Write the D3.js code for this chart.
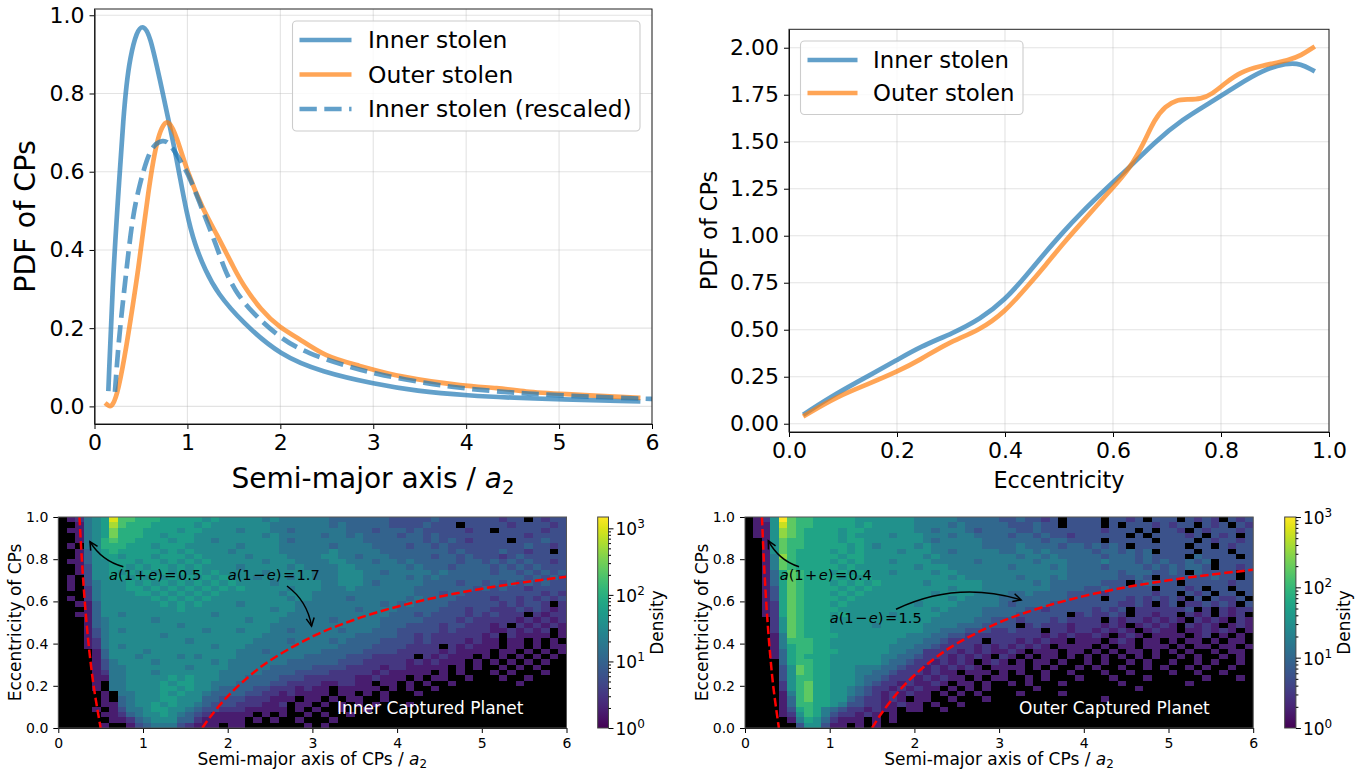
<!DOCTYPE html>
<html lang="en">
<head>
<meta charset="UTF-8">
<title>Stolen planets: PDFs and density maps</title>
<script src="https://d3js.org/d3.v7.min.js"></script>
<style>
    html, body { margin: 0; padding: 0; background: #fff; }
    svg { display: block; }
    text { font-family: "DejaVu Sans", sans-serif; fill: #000; }
</style>
</head>
<body>
<svg id="fig" width="1369" height="776"></svg>
<script>
// PDF vs semi-major axis
const innerA = [0.15, 0.2, 0.274, 0.31, 0.345, 0.382, 0.454, 0.525, 0.597, 0.704, 0.812, 0.9, 0.99, 1.08, 1.19, 1.32, 1.59, 2.0, 2.45, 3.0, 3.47, 4.0, 4.64, 5.85];
const innerAPdf = [0.045, 0.345, 0.605, 0.735, 0.825, 0.89, 0.96, 0.976, 0.95, 0.835, 0.715, 0.613, 0.494, 0.413, 0.349, 0.29, 0.215, 0.13, 0.088, 0.058, 0.039, 0.028, 0.02, 0.013];
const outerA = [0.133, 0.18, 0.24, 0.32, 0.42, 0.47, 0.525, 0.578, 0.632, 0.686, 0.74, 0.8, 0.885, 0.99, 1.17, 1.31, 1.51, 1.59, 1.79, 2.0, 2.18, 2.49, 2.84, 3.27, 4.0, 4.33, 4.64, 5.0, 5.85];
const outerAPdf = [0.005, -0.004, 0.024, 0.118, 0.27, 0.349, 0.451, 0.545, 0.63, 0.69, 0.722, 0.732, 0.69, 0.605, 0.502, 0.443, 0.349, 0.314, 0.246, 0.2, 0.177, 0.126, 0.105, 0.075, 0.051, 0.048, 0.037, 0.032, 0.022];
const rescaledA = [0.22, 0.26, 0.32, 0.364, 0.417, 0.489, 0.56, 0.63, 0.737, 0.81, 0.92, 1.026, 1.19, 1.31, 1.4, 1.51, 1.67, 2.0, 2.3, 2.69, 3.0, 3.59, 4.0, 4.64, 5.43, 6.1];
const rescaledAPdf = [0.037, 0.169, 0.297, 0.392, 0.494, 0.57, 0.63, 0.668, 0.682, 0.673, 0.63, 0.587, 0.484, 0.413, 0.349, 0.297, 0.246, 0.173, 0.135, 0.105, 0.084, 0.058, 0.045, 0.032, 0.024, 0.018];

// PDF vs eccentricity
const innerE = [0.03, 0.088, 0.15, 0.2, 0.243, 0.304, 0.354, 0.4, 0.44, 0.477, 0.508, 0.533, 0.598, 0.631, 0.677, 0.73, 0.777, 0.83, 0.876, 0.922, 0.948, 0.97];
const innerEPdf = [0.055, 0.162, 0.259, 0.339, 0.41, 0.482, 0.557, 0.658, 0.79, 0.92, 1.02, 1.1, 1.28, 1.365, 1.498, 1.622, 1.702, 1.8, 1.88, 1.92, 1.915, 1.88];
const outerE = [0.03, 0.088, 0.15, 0.2, 0.243, 0.292, 0.354, 0.4, 0.44, 0.477, 0.508, 0.542, 0.598, 0.631, 0.658, 0.677, 0.697, 0.717, 0.737, 0.763, 0.783, 0.81, 0.836, 0.869, 0.929, 0.948, 0.97];
const outerEPdf = [0.045, 0.144, 0.215, 0.277, 0.339, 0.428, 0.498, 0.596, 0.725, 0.85, 0.96, 1.07, 1.25, 1.356, 1.498, 1.62, 1.69, 1.722, 1.725, 1.727, 1.752, 1.817, 1.87, 1.9, 1.936, 1.959, 2.0];

// density maps, one char per cell: 0 = empty, otherwise log10(density) = level / 4 (hex)
// top row is e = 1, each cell 0.1 wide in a and 0.025 tall in e
const innerDensity = [
    "012567c998 8877777676 6666565555 5544444443 3333433333 3323303233",
    "001567b988 8777776766 6666655555 5545444443 3334333033 3332333323",
    "011567a888 7777677666 6566655455 5555444344 4343333323 3033333233",
    "001567a888 7767776666 6666565555 5455454444 3443433333 3333323333",
    "0015689887 7776776656 6666665455 5555554444 4443434323 3330333433",
    "0105688877 7677766666 6566665555 5545555444 4344343333 3333343323",
    "0014678777 7767676666 5666665555 5565555544 4444443433 3343323303",
    "0014677677 7677767666 6656666555 5665545554 4444344343 3323433333",
    "0114667776 7767676766 6666566655 5566555455 4544444344 3434343323",
    "0013667767 6776767666 6566666565 5556655555 5454443444 4343434333",
    "0013667676 7676767676 6666566666 5556665545 5555454444 4344343434",
    "0103667767 6767676767 6665666566 5556665555 5454544444 4444434343",
    "0103566676 7676767676 7666656666 6556665455 5554444344 3434343433",
    "0102566677 6767676767 6766666566 6555655555 5544444443 4343323333",
    "0002566667 7676767676 6666665666 5555555555 5544434433 3333333232",
    "0102566666 6767676766 6666666566 5555455555 5454444333 3233232323",
    "0011466666 6676767666 6566666655 5555555545 4544443333 3323233202",
    "0001466666 6666766666 6666656655 5555545555 4444433323 3222323212",
    "0011466566 6666666656 6666666555 5555555554 4434333323 2322202122",
    "0001456666 6566666666 6656665555 5545555544 4443333232 2222121212",
    "0001456666 6666566666 6666655555 5555555544 4333323322 2120212121",
    "0001356566 6666666566 6566655455 5554555444 3333323222 2112121201",
    "0001356666 6656666666 6666555555 5555544444 3323222222 1202111101",
    "0001256666 6666656666 6665555455 5545444433 3323222212 1101101010",
    "0001256566 6666666656 6655555555 5554444333 3222202121 1101101011",
    "0000146666 5666666666 6555455555 5444443333 2222212111 1011010101",
    "0000146665 6666565666 6555555554 4444333222 2202121110 1010101010",
    "0000135666 6566666656 5555555444 4443332222 2121211101 0101010100",
    "0000135566 6666656666 5555544444 3333222212 2111110101 0010101000",
    "0000125566 6566666665 5555444433 3322222121 1111010100 0101000100",
    "0000115566 6667676665 5544443332 2222211211 1010110010 0010010000",
    "0000105566 6676776655 5444433222 2112211011 0101001000 0000100000",
    "0000105566 6677676654 4443322212 1101111101 0100100000 0000000000",
    "0000010556 6676766544 4433221211 1101101010 0010000000 0000000000",
    "0000010456 6677666443 3322211101 1010110010 0000000000 0000000000",
    "0000011456 6767665433 3222112011 0101010100 0100000000 0000000000",
    "0000101355 6776654332 2211111010 1001001000 0000000000 0000000000",
    "0000011245 6676543211 1110101001 0100100000 0000000000 0000000000",
    "0000001124 5666442111 1101010010 0010000000 0000000000 0000000000",
    "0000010013 4555321110 1100000001 0100000000 0000000000 0000000000"
];
const outerDensity = [
    "0126c98877 7776666666 5555544444 3343323033 3303323033 3032320323",
    "0116b98877 7776766666 5555454444 4333433033 3303033323 2330323032",
    "0116a98777 7677666666 5545554344 4433433333 3323330303 3203233323",
    "0116a98777 7676666566 6555455444 4344343323 3333303033 3323032303",
    "0016988777 7677666666 6545555544 4444434433 3303333303 3330323323",
    "0016988777 7767656666 5655555544 4454444344 3434303333 3303303233",
    "0016987777 6767666656 6655455555 4455454444 4344343403 3330333033",
    "0015a87777 7677666666 6565555555 5545545444 4434443433 3304333303",
    "0015987777 6767666566 6655555455 5555455544 4454443434 3343403333",
    "0015987777 7676666666 5666555555 5455554544 4434444343 4344303323",
    "0014798777 6767666566 6656655555 5555555544 4444344433 4304333303",
    "0014798777 7676766666 6666565555 5545554544 4444334303 3333343303",
    "0014798777 6767676666 6566666655 5555454444 4433303433 3033333233",
    "0013798777 7676766666 6666566655 5555554444 3343333303 3323033033",
    "0013798777 6767666666 6656666555 5445444433 3323333323 3032303303",
    "0013798777 7676666666 6666565555 4444444433 3303323232 3203032230",
    "0012798777 6766666666 5666655555 4344443333 3333223202 3022323203",
    "0012798777 7666666666 6656555544 4443323333 3232302222 2230202122",
    "0012798777 6766666566 6665555544 4433333302 3223202212 2021202120",
    "0002698777 6666666666 6655555443 3323332322 2202122121 2102121021",
    "0002698777 6666656666 6555544433 3302322212 2212101212 1021210121",
    "0002698777 6666666666 6554443332 2322202212 2121210121 1011212101",
    "0001598777 7666666665 5544332222 2222212121 1210121011 1101201010",
    "0001588877 6666666655 5443222202 2212121101 1101210110 1011010110",
    "0001578877 6666666555 4432222121 2121210111 1010110111 0101101101",
    "0001478877 7666666554 4222212121 1210111011 0101011010 1010010110",
    "0001478777 6666665544 3222121210 2101011010 1010101010 0101001010",
    "0000478877 6666665443 2212121012 1010110100 1010010100 1001010010",
    "0000369877 6665554432 2121212101 1110101001 0100100101 0010100100",
    "0000369877 6665544322 2121101110 1010010010 0010010000 1001001000",
    "0000368877 6665443222 1212110101 1001010001 0001000100 0000100010",
    "0000268977 6665432212 1121011010 0101000100 0000100000 0010000000",
    "0000268977 6654322121 2110101010 0000100000 0000001000 0000000000",
    "0000158977 6654321212 1101010100 0010000100 0000000000 0000000000",
    "0000148977 6643221210 1100100010 0000000000 0010000000 0000000000",
    "0000148877 6533221121 1010010000 0000000000 0000000000 0000000000",
    "0000137875 4322121101 1001000000 0000000000 0000000000 0000000000",
    "0000126875 3221210100 0000000000 0000000000 0000000000 0000000000",
    "0000015764 2111010100 0000000000 0000000000 0000000000 0000000000",
    "0000003663 1101010000 0000000000 0000000000 0000000000 0000000000"
];

// read-off dashed boundaries on the density maps
const innerPeriA = [0.25, 0.278, 0.3125, 0.357, 0.417, 0.5];
const innerPeriE = [1, 0.8, 0.6, 0.4, 0.2, 0];
const innerApoA = [1.7, 1.8, 2, 2.25, 2.5, 3, 3.5, 4, 4.5, 5, 5.5, 6];
const innerApoE = [0, 0.056, 0.15, 0.244, 0.32, 0.433, 0.514, 0.575, 0.622, 0.66, 0.691, 0.717];
const outerPeriA = [0.2, 0.222, 0.25, 0.286, 0.333, 0.4];
const outerPeriE = [1, 0.8, 0.6, 0.4, 0.2, 0];
const outerApoA = [1.5, 1.6, 1.8, 2, 2.25, 2.5, 3, 3.5, 4, 4.5, 5, 5.5, 6];
const outerApoE = [0, 0.0625, 0.167, 0.25, 0.333, 0.4, 0.5, 0.571, 0.625, 0.667, 0.7, 0.727, 0.75];

const pdfATicks = [0, 0.2, 0.4, 0.6, 0.8, 1.0];
const pdfETicks = [0, 0.25, 0.5, 0.75, 1.0, 1.25, 1.5, 1.75, 2.0];
const eccTicks = [0, 0.2, 0.4, 0.6, 0.8, 1.0];
const smaTicks = [0, 1, 2, 3, 4, 5, 6];

const blue = "#1f77b4";
const orange = "#ff7f0e";
const svg = d3.select("#fig");
const defs = svg.append("defs");

defs.append("marker")
    .attr("id", "arrow")
    .attr("markerUnits", "userSpaceOnUse")
    .attr("markerWidth", 14).attr("markerHeight", 14)
    .attr("refX", 9).attr("refY", 5)
    .attr("orient", "auto")
    .append("path")
    .attr("d", "M1,1 L9,5 L1,9")
    .attr("fill", "none").attr("stroke", "#000").attr("stroke-width", 1.5);

function drawAxes(g, x, y, xTicks, yTicks, xFmt, yFmt, fontSize, spine) {
    const [x0, x1] = x.range();
    const [y0, y1] = y.range();
    const xAxis = g.append("g")
        .attr("transform", `translate(0,${y0})`)
        .call(d3.axisBottom(x).tickValues(xTicks).tickFormat(xFmt).tickSize(5).tickPadding(5).tickSizeOuter(0));
    const yAxis = g.append("g")
        .attr("transform", `translate(${x0},0)`)
        .call(d3.axisLeft(y).tickValues(yTicks).tickFormat(yFmt).tickSize(5).tickPadding(5).tickSizeOuter(0));
    [xAxis, yAxis].forEach(a => {
        a.selectAll("text").style("font-size", fontSize + "px");
        a.attr("font-family", null).attr("font-size", null);
    });
    g.append("rect")
        .attr("x", x0).attr("y", y1)
        .attr("width", x1 - x0).attr("height", y0 - y1)
        .attr("fill", "none").attr("stroke", spine).attr("stroke-width", 1);
}

function drawGrid(g, x, y, xTicks, yTicks) {
    g.selectAll(null).data(xTicks).enter().append("line")
        .attr("x1", d => x(d)).attr("x2", d => x(d))
        .attr("y1", y.range()[0]).attr("y2", y.range()[1])
        .attr("stroke", "#b0b0b0").attr("stroke-opacity", 0.35).attr("stroke-width", 1.1);
    g.selectAll(null).data(yTicks).enter().append("line")
        .attr("x1", x.range()[0]).attr("x2", x.range()[1])
        .attr("y1", d => y(d)).attr("y2", d => y(d))
        .attr("stroke", "#b0b0b0").attr("stroke-opacity", 0.35).attr("stroke-width", 1.1);
}

function drawCurve(g, x, y, xs, ys, color, dash) {
    const line = d3.line().x(d => x(d[0])).y(d => y(d[1])).curve(d3.curveBasis);
    g.append("path")
        .attr("d", line(d3.zip(xs, ys)))
        .attr("fill", "none")
        .attr("stroke", color)
        .attr("stroke-opacity", 0.7)
        .attr("stroke-width", 4.7)
        .attr("stroke-linejoin", "round")
        .attr("stroke-linecap", dash ? "butt" : "square")
        .attr("stroke-dasharray", dash || null);
}

function drawLegend(g, box, items, fontSize) {
    g.append("rect")
        .attr("x", box.x).attr("y", box.y)
        .attr("width", box.w).attr("height", box.h)
        .attr("rx", 4)
        .attr("fill", "#fff").attr("fill-opacity", 0.8)
        .attr("stroke", "#ccc").attr("stroke-width", 1.1);
    items.forEach((it, i) => {
        const cy = box.first + i * box.step;
        g.append("line")
            .attr("x1", box.lineX).attr("x2", box.lineX + box.lineW)
            .attr("y1", cy).attr("y2", cy)
            .attr("stroke", it.color).attr("stroke-opacity", 0.7).attr("stroke-width", 4.7)
            .attr("stroke-dasharray", it.dash || null);
        g.append("text")
            .attr("x", box.textX).attr("y", cy + fontSize * 0.36)
            .style("font-size", fontSize + "px")
            .text(it.label);
    });
}

function addClip(id, x, y) {
    defs.append("clipPath").attr("id", id).append("rect")
        .attr("x", x.range()[0]).attr("y", y.range()[1])
        .attr("width", x.range()[1] - x.range()[0])
        .attr("height", y.range()[0] - y.range()[1]);
}

// a_2 with italics and subscript at the end of an axis label
function smaLabel(sel, prefix, size) {
    sel.style("font-size", size + "px");
    sel.append("tspan").text(prefix);
    sel.append("tspan").attr("font-style", "italic").text("a");
    sel.append("tspan").attr("dy", size * 0.2).style("font-size", (size * 0.7) + "px").text("2");
}

function mathLabel(g, px, py, size, parts) {
    const t = g.append("text").attr("x", px).attr("y", py).style("font-size", size + "px");
    parts.forEach(p => {
        t.append("tspan").attr("font-style", p.i ? "italic" : null).text(p.t);
    });
}

function rowsToCells(rows) {
    const cells = [];
    rows.forEach((row, r) => {
        row.replace(/ /g, "").split("").forEach((c, col) => {
            const level = parseInt(c, 16);
            if (level > 0) cells.push({ col, r, density: Math.pow(10, level / 4) });
        });
    });
    return cells;
}

function drawDensity(opts) {
    const g = svg.append("g");
    const x = d3.scaleLinear().domain([0, 6]).range([opts.left, opts.left + 508.2]);
    const y = d3.scaleLinear().domain([0, 1]).range([728, 517]);
    const color = d3.scaleSequentialLog(d3.interpolateViridis).domain([1, opts.vmax]);
    const clipId = "clip" + opts.id;
    addClip(clipId, x, y);

    g.append("rect")
        .attr("x", x(0)).attr("y", y(1))
        .attr("width", x(6) - x(0)).attr("height", y(0) - y(1))
        .attr("fill", "#000");

    g.append("g").attr("shape-rendering", "crispEdges").selectAll("rect")
        .data(rowsToCells(opts.rows))
        .enter().append("rect")
        .attr("x", d => x(d.col * 0.1))
        .attr("y", d => y(1 - d.r * 0.025))
        .attr("width", x(0.1) - x(0))
        .attr("height", y(0) - y(0.025))
        .attr("fill", d => color(d.density));

    const line = d3.line().x(d => x(d[0])).y(d => y(d[1])).curve(d3.curveCatmullRom.alpha(0.5));
    const curves = g.append("g").attr("clip-path", `url(#${clipId})`);
    [opts.peri, opts.apo].forEach(c => {
        curves.append("path")
            .attr("d", line(d3.zip(c[0], c[1])))
            .attr("fill", "none").attr("stroke", "#f00")
            .attr("stroke-width", 2.5).attr("stroke-dasharray", "8.5,3.6");
    });

    opts.arrows.forEach(a => {
        const p = d3.path();
        p.moveTo(x(a[0]), y(a[1]));
        p.quadraticCurveTo(x(a[2]), y(a[3]), x(a[4]), y(a[5]));
        g.append("path").attr("d", p.toString())
            .attr("fill", "none").attr("stroke", "#000").attr("stroke-width", 1.5)
            .attr("marker-end", "url(#arrow)");
    });

    opts.notes.forEach(n => {
        mathLabel(g, x(n.a), y(n.e), 14.6, [
            { t: "a", i: true }, { t: "(1\u200a" + n.sign + "\u200a" }, { t: "e", i: true }, { t: ")\u200a=\u200a" + n.value }
        ]);
    });

    g.append("text")
        .attr("x", opts.tagX).attr("y", 713.5)
        .style("font-size", "17px")
        .style("fill", "#fff")
        .text(opts.tag);

    drawAxes(g, x, y, smaTicks, eccTicks, d3.format("d"), d3.format(".1f"), 14, "#555");

    g.append("text")
        .attr("transform", `translate(${opts.left - 37},622.5) rotate(-90)`)
        .attr("text-anchor", "middle")
        .style("font-size", "17px")
        .text("Eccentricity of CPs");
    g.append("text")
        .attr("x", opts.left + 254).attr("y", 765)
        .attr("text-anchor", "middle")
        .call(smaLabel, "Semi-major axis of CPs / ", 17);

    // colorbar
    const cbY = d3.scaleLog().domain([1, opts.vmax]).range([728, 517]);
    const gradId = "grad" + opts.id;
    const grad = defs.append("linearGradient").attr("id", gradId)
        .attr("x1", 0).attr("x2", 0).attr("y1", 1).attr("y2", 0);
    d3.range(0, 1.001, 0.05).forEach(t => {
        grad.append("stop").attr("offset", t).attr("stop-color", d3.interpolateViridis(t));
    });
    g.append("rect")
        .attr("x", opts.cbX).attr("y", 517)
        .attr("width", opts.cbW).attr("height", 211)
        .attr("fill", `url(#${gradId})`)
        .attr("stroke", "#444").attr("stroke-width", 1);

    const majors = [1, 10, 100, 1000];
    const minors = cbY.ticks().filter(v => !majors.includes(v));
    const cbAxis = g.append("g").attr("transform", `translate(${opts.cbX + opts.cbW},0)`);
    cbAxis.call(d3.axisRight(cbY).tickValues(minors).tickSize(2.5).tickFormat("").tickSizeOuter(0));
    cbAxis.select(".domain").remove();
    const cbMajor = g.append("g").attr("transform", `translate(${opts.cbX + opts.cbW},0)`);
    cbMajor.call(d3.axisRight(cbY).tickValues(majors).tickSize(5).tickFormat("").tickSizeOuter(0));
    cbMajor.select(".domain").remove();
    majors.forEach((m, i) => {
        const t = g.append("text")
            .attr("x", opts.cbX + opts.cbW + 7)
            .attr("y", cbY(m) + 7)
            .style("font-size", "17px");
        t.append("tspan").text("10");
        t.append("tspan").attr("dy", -7).style("font-size", "12px").text(i);
    });
    g.append("text")
        .attr("transform", `translate(${opts.cbX + 65},622.5) rotate(-90)`)
        .attr("text-anchor", "middle")
        .style("font-size", "17px")
        .text("Density");
}

// top left panel
{
    const g = svg.append("g");
    const x = d3.scaleLinear().domain([0, 6]).range([94.5, 652]);
    const y = d3.scaleLinear().domain([-0.045, 1.016]).range([424, 9]);
    addClip("clipA", x, y);
    drawGrid(g, x, y, smaTicks, pdfATicks);
    const lines = g.append("g").attr("clip-path", "url(#clipA)");
    drawCurve(lines, x, y, innerA, innerAPdf, blue);
    drawCurve(lines, x, y, outerA, outerAPdf, orange);
    drawCurve(lines, x, y, rescaledA, rescaledAPdf, blue, "17.3,7.5");
    drawAxes(g, x, y, smaTicks, pdfATicks, d3.format("d"), d3.format(".1f"), 22, "#222");
    drawLegend(g, { x: 292.5, y: 21, w: 347.5, h: 110, first: 40, step: 34.5, lineX: 299.5, lineW: 52, textX: 368 }, [
        { label: "Inner stolen", color: blue },
        { label: "Outer stolen", color: orange },
        { label: "Inner stolen (rescaled)", color: blue, dash: "17.3,7.5" }
    ], 23.4);
    g.append("text")
        .attr("transform", "translate(35,216.5) rotate(-90)")
        .attr("text-anchor", "middle")
        .style("font-size", "28.5px")
        .text("PDF of CPs");
    g.append("text")
        .attr("x", 373).attr("y", 488)
        .attr("text-anchor", "middle")
        .call(smaLabel, "Semi-major axis / ", 28);
}

// top right panel
{
    const g = svg.append("g");
    const x = d3.scaleLinear().domain([0, 1]).range([789, 1329]);
    const y = d3.scaleLinear().domain([-0.044, 2.098]).range([432, 29.3]);
    addClip("clipE", x, y);
    drawGrid(g, x, y, eccTicks, pdfETicks);
    const lines = g.append("g").attr("clip-path", "url(#clipE)");
    drawCurve(lines, x, y, innerE, innerEPdf, blue);
    drawCurve(lines, x, y, outerE, outerEPdf, orange);
    drawAxes(g, x, y, eccTicks, pdfETicks, d3.format(".1f"), d3.format(".2f"), 22, "#222");
    drawLegend(g, { x: 800.5, y: 41, w: 222.5, h: 73.5, first: 60, step: 33, lineX: 807.5, lineW: 50, textX: 873 }, [
        { label: "Inner stolen", color: blue },
        { label: "Outer stolen", color: orange }
    ], 22.8);
    g.append("text")
        .attr("transform", "translate(717,230.6) rotate(-90)")
        .attr("text-anchor", "middle")
        .style("font-size", "22.3px")
        .text("PDF of CPs");
    g.append("text")
        .attr("x", 1059).attr("y", 488)
        .attr("text-anchor", "middle")
        .style("font-size", "22.3px")
        .text("Eccentricity");
}

// bottom density maps
drawDensity({
    id: "Inner",
    left: 58.3,
    vmax: 1480,
    rows: innerDensity,
    peri: [innerPeriA, innerPeriE],
    apo: [innerApoA, innerApoE],
    arrows: [
        [0.768, 0.764, 0.511, 0.792, 0.374, 0.883],
        [2.7, 0.673, 2.94, 0.602, 2.99, 0.483]
    ],
    notes: [
        { a: 0.6, e: 0.7, sign: "+", value: "0.5" },
        { a: 2.0, e: 0.7, sign: "−", value: "1.7" }
    ],
    tag: "Inner Captured Planet",
    tagX: 337,
    cbX: 597.7,
    cbW: 10.8
});
drawDensity({
    id: "Outer",
    left: 745,
    vmax: 1000,
    rows: outerDensity,
    peri: [outerPeriA, outerPeriE],
    apo: [outerApoA, outerApoE],
    arrows: [
        [0.638, 0.764, 0.397, 0.795, 0.275, 0.888],
        [1.783, 0.563, 2.5, 0.7, 3.26, 0.607]
    ],
    notes: [
        { a: 0.41, e: 0.7, sign: "+", value: "0.4" },
        { a: 1.0, e: 0.5, sign: "−", value: "1.5" }
    ],
    tag: "Outer Captured Planet",
    tagX: 1019,
    cbX: 1284.7,
    cbW: 11.2
});
</script>
</body>
</html>
